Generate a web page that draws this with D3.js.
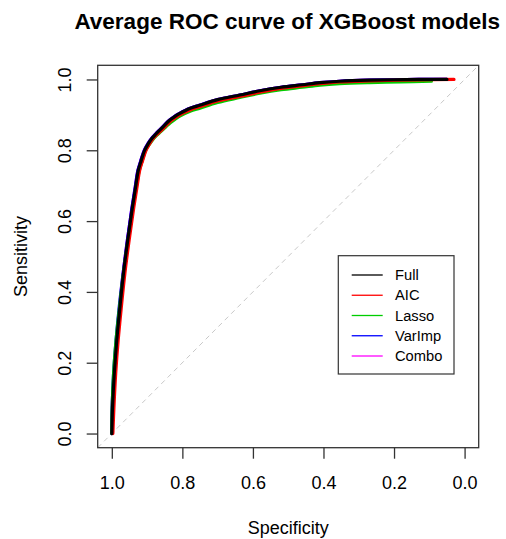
<!DOCTYPE html>
<html>
<head>
<meta charset="utf-8">
<script src="https://cdn.jsdelivr.net/npm/d3@7/dist/d3.min.js"></script>
<style>
  html, body { margin: 0; padding: 0; background: #fff; }
  text { font-family: "Liberation Sans", Arial, sans-serif; fill: #000; }
</style>
</head>
<body>
<svg id="chart" width="506" height="539"></svg>
<script>
// ---- Data ----
const seriesNames = ["Full", "AIC", "Lasso", "VarImp", "Combo"];
const seriesColors = ["#000000", "#FF0000", "#00CD00", "#0000FF", "#FF00FF"];
const tickValues = [1.0, 0.8, 0.6, 0.4, 0.2, 0.0];
const tickLabels = ["1.0", "0.8", "0.6", "0.4", "0.2", "0.0"];

const fullSpec = [1.000,0.998,0.993,0.986,0.977,0.967,0.955,0.943,0.932,0.925,0.917,0.907,0.897,0.886,0.875,0.864,0.850,0.836,0.822,0.807,0.779,0.751,0.700,0.637,0.580,0.520,0.460,0.410,0.354,0.270,0.130,0.050];
const fullSens = [0.000,0.074,0.169,0.263,0.357,0.452,0.545,0.630,0.700,0.743,0.770,0.800,0.818,0.834,0.846,0.857,0.871,0.885,0.895,0.904,0.918,0.927,0.943,0.956,0.968,0.978,0.985,0.991,0.995,0.998,1.000,1.000];

const aicSpec = [0.997,0.994,0.989,0.982,0.973,0.963,0.951,0.939,0.928,0.921,0.913,0.903,0.893,0.883,0.872,0.861,0.847,0.834,0.820,0.806,0.778,0.750,0.700,0.637,0.580,0.520,0.460,0.410,0.354,0.270,0.130,0.030];
const aicSens = [0.000,0.074,0.169,0.263,0.357,0.452,0.545,0.630,0.700,0.743,0.770,0.800,0.818,0.833,0.845,0.855,0.869,0.882,0.892,0.901,0.914,0.923,0.939,0.952,0.964,0.975,0.982,0.988,0.993,0.996,0.999,1.000];

const lassoSpec = [1.000,0.999,0.995,0.988,0.978,0.967,0.954,0.941,0.930,0.922,0.914,0.904,0.894,0.884,0.873,0.862,0.848,0.834,0.820,0.806,0.778,0.750,0.700,0.637,0.580,0.520,0.460,0.410,0.354,0.270,0.180,0.094];
const lassoSens = [0.000,0.074,0.169,0.263,0.357,0.452,0.545,0.630,0.700,0.743,0.770,0.800,0.816,0.830,0.842,0.852,0.865,0.878,0.888,0.897,0.910,0.919,0.935,0.949,0.961,0.971,0.978,0.984,0.988,0.991,0.993,0.995];

const varImpSpec = [1.000,0.999,0.995,0.988,0.979,0.968,0.956,0.944,0.933,0.926,0.918,0.908,0.898,0.887,0.876,0.865,0.851,0.837,0.823,0.808,0.780,0.752,0.700,0.637,0.580,0.520,0.460,0.410,0.354,0.270,0.130,0.050];
const varImpSens = [0.000,0.074,0.169,0.263,0.357,0.452,0.545,0.630,0.700,0.743,0.770,0.800,0.818,0.834,0.846,0.857,0.871,0.885,0.895,0.904,0.918,0.927,0.943,0.956,0.968,0.978,0.985,0.991,0.995,0.998,1.000,1.000];

const comboSpec = [1.000,0.999,0.994,0.987,0.978,0.968,0.956,0.944,0.933,0.926,0.918,0.908,0.898,0.887,0.876,0.865,0.851,0.837,0.823,0.808,0.780,0.752,0.700,0.637,0.580,0.520,0.460,0.410,0.354,0.270,0.130,0.050];
const comboSens = [0.000,0.074,0.169,0.263,0.357,0.452,0.545,0.630,0.700,0.743,0.770,0.800,0.818,0.834,0.846,0.857,0.871,0.885,0.895,0.904,0.918,0.927,0.943,0.956,0.968,0.978,0.985,0.991,0.995,0.998,1.000,1.000];

const seriesSpec = [fullSpec, aicSpec, lassoSpec, varImpSpec, comboSpec];
const seriesSens = [fullSens, aicSens, lassoSens, varImpSens, comboSens];

// ---- Layout ----
const svg = d3.select("#chart");
const box = { left: 97.7, right: 478.7, top: 65.3, bottom: 447.7 };

const x = d3.scaleLinear().domain([1.04, -0.04]).range([box.left, box.right]);
const y = d3.scaleLinear().domain([-0.04, 1.04]).range([box.bottom, box.top]);

svg.append("defs").append("clipPath").attr("id", "clip")
  .append("rect").attr("x", box.left).attr("y", box.top)
  .attr("width", box.right - box.left).attr("height", box.bottom - box.top);

// diagonal reference line (sens = 1 - spec)
svg.append("line")
  .attr("clip-path", "url(#clip)")
  .attr("x1", x(1.04)).attr("y1", y(-0.04))
  .attr("x2", x(-0.04)).attr("y2", y(1.04))
  .attr("stroke", "#c8c8c8").attr("stroke-width", 1)
  .attr("stroke-dasharray", "5,4");

// curves
const line = d3.line().x(d => x(d[0])).y(d => y(d[1])).curve(d3.curveCatmullRom.alpha(0.5));
const drawOrder = [4, 3, 2, 1, 0];
const g = svg.append("g").attr("clip-path", "url(#clip)");
drawOrder.forEach(i => {
  const pts = seriesSpec[i].map((s, k) => [s, seriesSens[i][k]]);
  g.append("path")
    .attr("d", line(pts))
    .attr("fill", "none")
    .attr("stroke", seriesColors[i])
    .attr("stroke-width", 3.2)
    .attr("stroke-linejoin", "round")
    .attr("stroke-linecap", "round");
});

// frame
svg.append("rect")
  .attr("x", box.left).attr("y", box.top)
  .attr("width", box.right - box.left).attr("height", box.bottom - box.top)
  .attr("fill", "none").attr("stroke", "#333").attr("stroke-width", 1.3);

// x axis
const xAxis = d3.axisBottom(x).tickValues(tickValues)
  .tickFormat((d, i) => tickLabels[i]).tickSize(11).tickPadding(0);
const gx = svg.append("g").attr("transform", `translate(0,${box.bottom})`).call(xAxis);
gx.select(".domain").remove();
gx.selectAll(".tick line").attr("stroke", "#333").attr("stroke-width", 1.3);
gx.selectAll(".tick text")
  .attr("y", 35.5).attr("dy", null).attr("dominant-baseline", "central")
  .style("font-size", "18px").style("font-family", "'Liberation Sans', Arial, sans-serif").attr("fill", "#000");

// y axis
const yAxis = d3.axisLeft(y).tickValues(tickValues)
  .tickFormat((d, i) => tickLabels[i]).tickSize(11).tickPadding(0);
const gy = svg.append("g").attr("transform", `translate(${box.left},0)`).call(yAxis);
gy.select(".domain").remove();
gy.selectAll(".tick line").attr("stroke", "#333").attr("stroke-width", 1.3);
gy.selectAll(".tick text")
  .attr("x", null).attr("dy", null)
  .attr("text-anchor", "middle").attr("dominant-baseline", "central")
  .attr("transform", "translate(-33,0) rotate(-90)")
  .style("font-size", "18px").style("font-family", "'Liberation Sans', Arial, sans-serif").attr("fill", "#000");

// titles
const cx = (box.left + box.right) / 2;
svg.append("text").attr("x", cx - 1).attr("y", 21).attr("text-anchor", "middle")
  .attr("dominant-baseline", "central")
  .style("font-size", "22.5px").style("font-weight", "bold")
  .text("Average ROC curve of XGBoost models");

svg.append("text").attr("x", cx).attr("y", 528).attr("text-anchor", "middle")
  .attr("dominant-baseline", "central").style("font-size", "18px")
  .text("Specificity");

const cy = (box.top + box.bottom) / 2;
svg.append("text").attr("transform", `translate(21,${cy}) rotate(-90)`)
  .attr("text-anchor", "middle").attr("dominant-baseline", "central")
  .style("font-size", "18px").text("Sensitivity");

// legend
const leg = svg.append("g");
leg.append("rect").attr("x", 338.3).attr("y", 255.7).attr("width", 115.7).attr("height", 118.3)
  .attr("fill", "#fff").attr("stroke", "#333").attr("stroke-width", 1.2);
seriesNames.forEach((name, i) => {
  const ry = 275 + i * 20.25;
  leg.append("line").attr("x1", 351.7).attr("x2", 382.7).attr("y1", ry).attr("y2", ry)
    .attr("stroke", seriesColors[i]).attr("stroke-width", 1.3);
  leg.append("text").attr("x", 395).attr("y", ry).attr("dominant-baseline", "central")
    .style("font-size", "14.7px").text(name);
});
</script>
</body>
</html>
